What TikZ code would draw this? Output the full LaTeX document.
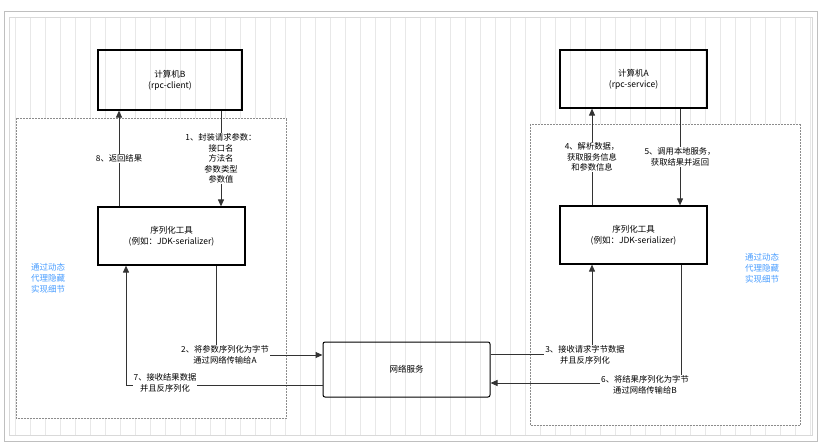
\documentclass[tikz,border=0pt]{standalone}
\usepackage{fontspec}
\setmainfont{Noto Sans CJK SC}
\usetikzlibrary{arrows.meta}
\definecolor{hint}{HTML}{4A9EFF}
\begin{document}
\begin{tikzpicture}[x=1pt,y=-1pt,font=\fontsize{8.5}{11}\selectfont,
 box/.style={draw,line width=1.2pt,align=center,inner sep=0},
 arr/.style={draw=black!80,line width=1pt,-{Triangle[length=7pt,width=6pt]}},
 ln/.style={draw=black!80,line width=1pt},
 lab/.style={fill=white,align=center,inner sep=1pt,font=\fontsize{8.3}{10.5}\selectfont},
 zone/.style={draw=black!45,densely dotted,line width=0.5pt,fill=white}]
\useasboundingbox (0,0) rectangle (826,446);
\fill[white] (0,0) rectangle (826,446);
\draw[gray!50,line width=1pt] (4,12) rectangle (817,441);
\draw[gray!18,step=15] (9,17) grid (812,435);
\draw[gray!30] (9,17) rectangle (812,435);
\draw[zone] (16,118) rectangle (286,418);
\draw[zone] (530,124) rectangle (800,425);
\node[box,minimum width=144,minimum height=60] (B) at (170,80) {计算机B\\(rpc-client)};
\node[box,minimum width=147,minimum height=58] (SB) at (171.5,236) {序列化工具\\(例如：JDK-serializer)};
\node[box,minimum width=147,minimum height=58] (A) at (633.5,79) {计算机A\\(rpc-service)};
\node[box,minimum width=147,minimum height=58] (SA) at (633.5,235) {序列化工具\\(例如：JDK-serializer)};
\node[box,line width=1pt,rounded corners=2pt,minimum width=167,minimum height=55] (N) at (406.5,369.5) {网络服务};
\coordinate (c2) at (216,355);
\coordinate (c7) at (126,385);
\coordinate (c3) at (592,354);
\coordinate (c6) at (681,383);
% left
\draw[arr] (SB.north -| 119,0) -- (B.south -| 119,0) node[lab,midway] {8、返回结果};
\draw[arr] (B.south -| 221,0) -- (SB.north -| 221,0) node[lab,midway] {1、封装请求参数：\\接口名\\方法名\\参数类型\\参数值};
\draw[arr] (SB.south -| c2) -- (c2) -- (N.west |- c2);
\node[lab] at (225,355) {2、将参数序列化为字节\\通过网络传输给A};
\draw[arr] (N.west |- c7) -- (c7) -- (SB.south -| c7);
\node[lab] at (165,383) {7、接收结果数据\\并且反序列化};
% right
\draw[arr] (SA.north -| 592,0) -- (A.south -| 592,0) node[lab,midway] {4、解析数据，\\获取服务信息\\和参数信息};
\draw[arr] (A.south -| 680,0) -- (SA.north -| 680,0) node[lab,midway] {5、调用本地服务，\\获取结果并返回};
\draw[arr] (N.east |- c3) -- (c3) -- (SA.south -| c3);
\node[lab] at (585,355) {3、接收请求字节数据\\并且反序列化};
\draw[arr] (SA.south -| c6) -- (c6) -- (N.east |- c6);
\node[lab] at (645,385) {6、将结果序列化为字节\\通过网络传输给B};
\node[text=hint,align=left] (h1) at (48,278) {通过动态\\代理隐藏\\实现细节};
\node[text=hint,align=left] (h2) at (762,268) {通过动态\\代理隐藏\\实现细节};
\end{tikzpicture}
\end{document}
